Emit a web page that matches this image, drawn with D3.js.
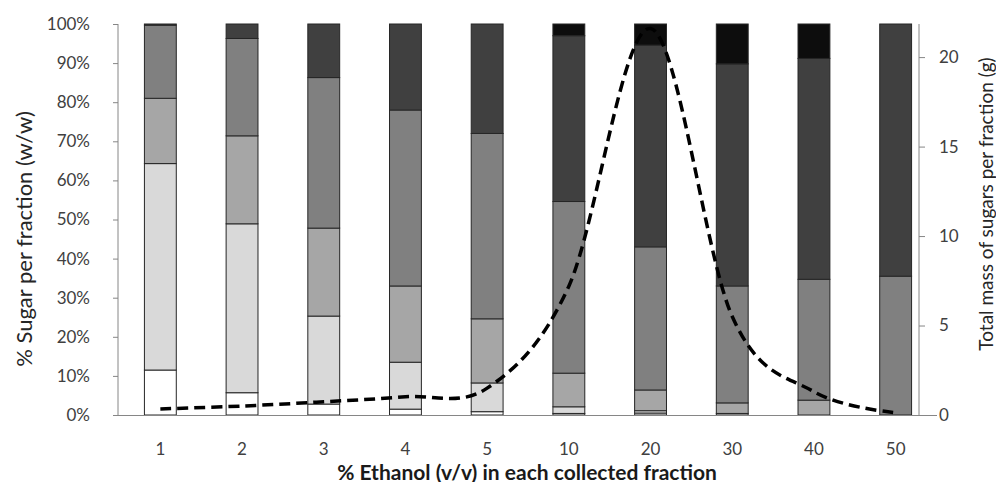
<!DOCTYPE html>
<html>
<head>
<meta charset="utf-8">
<script src="https://cdn.jsdelivr.net/npm/d3@7"></script>
<style>
  body { margin: 0; background: #fff; }
  svg text { font-family: Lato, "Open Sans", sans-serif; }
</style>
</head>
<body>
<svg id="chart" width="996" height="482"></svg>
<script>
// Ethanol fractions (x categories)
const categories = ["1", "2", "3", "4", "5", "10", "20", "30", "40", "50"];

// % of each sugar group per fraction, bottom to top
const sugarA = [11.5, 5.7, 2.8, 1.5, 0.85, 0.4, 0.5, 0, 0, 0];
const sugarB = [52.8, 43.2, 22.5, 12, 7.35, 1.7, 0.6, 0.4, 0, 0];
const sugarC = [16.7, 22.5, 22.5, 19.5, 16.4, 8.6, 5.3, 2.7, 3.8, 0];
const sugarD = [18.7, 24.9, 38.5, 45, 47.4, 43.9, 36.6, 29.9, 30.9, 35.5];
const sugarE = [0.3, 3.7, 13.7, 22, 28, 42.4, 51.6, 56.8, 56.5, 64.5];
const sugarF = [0, 0, 0, 0, 0, 3, 5.4, 10.2, 8.8, 0];

// total mass of sugars per fraction (g), right axis
const totalMass = [0.34, 0.5, 0.74, 1.02, 1.5, 7.2, 21.6, 5.5, 1.3, 0.13];

const seriesKeys = ["A", "B", "C", "D", "E", "F"];
const seriesFill = ["#ffffff", "#d9d9d9", "#a6a6a6", "#808080", "#404040", "#0d0d0d"];
const leftTicks = [0, 10, 20, 30, 40, 50, 60, 70, 80, 90, 100];
const rightTicks = [0, 5, 10, 15, 20];

const svg = d3.select("#chart");
const plot = { left: 118, right: 919, top: 24, bottom: 415 };

// table for d3.stack
const rows = categories.map((c, i) => ({
  cat: c, A: sugarA[i], B: sugarB[i], C: sugarC[i], D: sugarD[i], E: sugarE[i], F: sugarF[i]
}));
const stacked = d3.stack().keys(seriesKeys)(rows);

const x = d3.scaleBand().domain(categories).range([119.5, 936.5])
  .paddingInner(0.61).paddingOuter(0.305);
const y = d3.scaleLinear().domain([0, 100]).range([plot.bottom, plot.top]);
const y2 = d3.scaleLinear().domain([0, 21.85]).range([plot.bottom, plot.top]);

const axisColor = "#868686";
const tickText = "#404040";

// bars
stacked.forEach((s, k) => {
  svg.append("g").selectAll("rect").data(s.filter(d => d[1] - d[0] > 0))
    .join("rect")
    .attr("x", d => x(d.data.cat))
    .attr("width", x.bandwidth())
    .attr("y", d => y(d[1]))
    .attr("height", d => y(d[0]) - y(d[1]))
    .attr("fill", seriesFill[k])
    .attr("stroke", "#262626")
    .attr("stroke-width", 1);
});

// left axis
const leftAxis = d3.axisLeft(y).tickValues(leftTicks).tickSize(5).tickPadding(23)
  .tickFormat(d => d + "%");
const gl = svg.append("g").attr("transform", "translate(" + plot.left + ",0)").call(leftAxis);
gl.select(".domain").attr("stroke", axisColor).attr("d", "M0," + plot.bottom + "V" + plot.top);
gl.selectAll(".tick line").attr("stroke", axisColor);
gl.selectAll(".tick text").attr("fill", tickText).style("font-size", "17px");

// right axis
const rightAxis = d3.axisRight(y2).tickValues(rightTicks).tickSize(6).tickPadding(14);
const gr = svg.append("g").attr("transform", "translate(" + plot.right + ",0)").call(rightAxis);
gr.select(".domain").attr("stroke", axisColor).attr("d", "M0," + plot.bottom + "V" + plot.top);
gr.selectAll(".tick line").attr("stroke", axisColor);
gr.selectAll(".tick text").attr("fill", tickText).style("font-size", "17px");

// bottom axis
svg.append("line")
  .attr("x1", 113).attr("x2", 937)
  .attr("y1", plot.bottom + 0.5).attr("y2", plot.bottom + 0.5)
  .attr("stroke", axisColor);
svg.append("g").selectAll("text").data(categories)
  .join("text")
  .attr("x", d => x(d) + x.bandwidth() / 2)
  .attr("y", 455)
  .attr("text-anchor", "middle")
  .attr("fill", tickText)
  .style("font-size", "17px")
  .text(d => d);

// total mass line
const line = d3.line()
  .x((d, i) => x(categories[i]) + x.bandwidth() / 2)
  .y(d => y2(d))
  .curve(d3.curveCardinal.tension(0));
svg.append("path").datum(totalMass)
  .attr("d", line)
  .attr("fill", "none")
  .attr("stroke", "#000")
  .attr("stroke-width", 3.5)
  .attr("stroke-dasharray", "11,6");

// axis titles
svg.append("text")
  .attr("transform", "translate(32,239) rotate(-90)")
  .attr("text-anchor", "middle")
  .attr("fill", "#262626")
  .style("font-size", "22px")
  .text("% Sugar per fraction (w/w)");

svg.append("text")
  .attr("transform", "translate(993,204) rotate(-90)")
  .attr("text-anchor", "middle")
  .attr("fill", "#262626")
  .style("font-size", "19px")
  .text("Total mass of sugars per fraction (g)");

svg.append("text")
  .attr("x", 527).attr("y", 479.5)
  .attr("text-anchor", "middle")
  .attr("fill", "#1a1a1a")
  .style("font-size", "21px")
  .style("font-weight", "bold")
  .text("% Ethanol (v/v) in each collected fraction");
</script>
</body>
</html>
